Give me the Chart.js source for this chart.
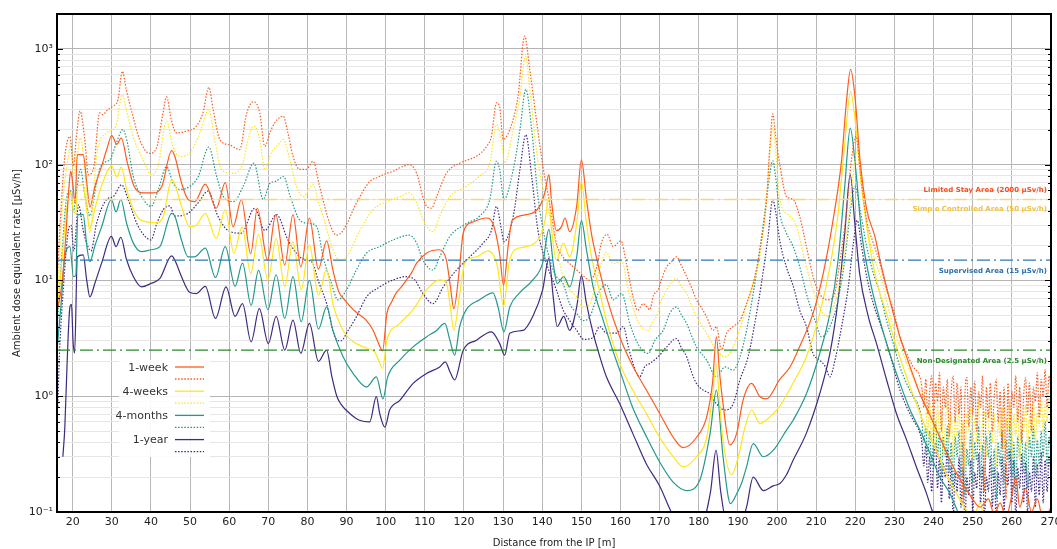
<!DOCTYPE html>
<html>
<head>
<meta charset="utf-8">
<script src="https://cdn.jsdelivr.net/npm/chart.js@4/dist/chart.umd.min.js"></script>
<style>
  html, body { margin: 0; padding: 0; background: #fff; }
  #wrap { width: 1057px; height: 549px; }
</style>
</head>
<body>
<div id="wrap"><canvas id="doseChart" width="1057" height="549"></canvas></div>
<script>
// Distance from the IP [m] and dose rate [uSv/h].
const week1Solid = [
  [16.3, 6], [17.2, 9], [18.0, 18], [19.0, 60], [19.5, 88], [20.0, 70], [20.6, 47], [21.2, 122], [22.7, 122],
  [23.6, 70], [24.4, 43], [25.7, 65], [27.4, 97], [28.7, 135], [30.0, 178], [31.3, 150], [32.4, 170], [34.0, 103],
  [35.7, 65], [38.1, 57], [40.6, 57], [42.8, 65], [45.3, 132], [46.1, 118], [47.8, 70], [49.5, 50], [51.2, 48],
  [53.9, 68], [56.7, 42], [59.0, 70], [61.0, 29], [63.1, 50], [65.5, 17], [67.2, 42], [69.8, 15], [71.9, 37],
  [74.2, 13.6], [76.3, 37], [78.3, 13.1], [80.5, 34.5], [82.8, 12.5], [84.9, 22], [86.5, 12.3], [88.0, 8],
  [89.5, 6.8], [91.7, 5.6], [93.5, 5.0], [95.1, 4.5], [96.8, 3.7], [98.0, 2.95], [99.2, 2.47], [100.3, 5.2],
  [101.5, 6.5], [102.7, 7.8], [104.0, 8.8], [105.3, 10.1], [106.5, 11.5], [107.9, 14.1], [110.4, 17.2],
  [113.8, 18.4], [115.5, 15], [116.5, 9], [117.4, 5.7], [118.8, 12.3], [119.8, 25.7], [122.3, 32], [125.7, 34.6],
  [127.4, 31], [129.1, 17], [130.1, 9.1], [131.3, 20], [132.3, 33], [136.0, 37], [139.4, 44], [140.7, 58],
  [141.7, 82], [142.4, 47], [143.6, 27], [144.9, 29], [145.8, 34.6], [147.0, 26.4], [148.8, 44], [150.0, 110],
  [151.3, 50], [152.6, 25], [154.0, 15], [156.4, 7.2], [159.8, 3.25], [162.8, 1.92], [166.6, 1.13], [170.0, 0.71],
  [173.5, 0.44], [176.0, 0.36], [179.4, 0.44], [182.0, 0.66], [183.5, 1.3], [184.5, 3.25], [185.3, 1.6],
  [186.2, 0.86], [187.9, 0.38], [189.7, 0.48], [191.3, 0.92], [193.5, 1.29], [195.6, 0.99], [197.3, 0.95],
  [200.7, 1.4], [203.3, 1.79], [205.8, 2.7], [209.2, 5.2], [211.8, 11.5], [214.3, 33], [216.5, 110], [217.7, 342],
  [218.8, 665], [219.9, 390], [221.2, 110], [222.9, 41], [225.0, 24], [226.3, 15], [228.8, 6.8], [231.4, 3.25],
  [234.0, 1.79], [236.5, 1.05], [239.1, 0.68], [241.6, 0.44], [244.2, 0.28], [246.8, 0.19], [249.3, 0.14],
  [251.9, 0.11], [254.0, 0.13], [255.5, 0.095], [257.0, 0.12], [258.5, 0.09], [260.0, 0.14], [261.0, 0.2],
  [262.0, 0.11], [263.5, 0.16], [265.0, 0.1], [266.5, 0.13], [268.0, 0.085], [270.0, 0.11]
];

const week4Solid = [
  [16.0, 5], [17.2, 14], [18.6, 45], [19.5, 58], [20.2, 40], [20.8, 38], [21.3, 66], [22.7, 67], [23.6, 40],
  [24.4, 28], [25.7, 42], [27.4, 66], [30.0, 97], [31.3, 78], [32.4, 95], [33.8, 61], [35.5, 41], [37.6, 33],
  [41.5, 31.5], [43.2, 36], [45.3, 74], [46.1, 68], [47.8, 44], [49.9, 29], [51.6, 30], [53.9, 38], [56.7, 23],
  [59.0, 41], [61.2, 17.2], [63.3, 29], [65.5, 11.5], [67.5, 25], [69.9, 10.1], [72.0, 23], [74.2, 8.9],
  [76.3, 21.6], [78.4, 8.3], [80.5, 20.3], [82.8, 7.5], [84.9, 12.5], [86.5, 6.3], [89.1, 3.7], [91.7, 2.95],
  [95.1, 2.6], [97.2, 2.4], [98.3, 2.0], [99.2, 1.74], [100.3, 3.05], [103.6, 4.25], [107.0, 5.6], [110.4, 8.3],
  [113.8, 10.1], [115.5, 9.5], [116.5, 6], [117.4, 3.7], [118.8, 7.2], [120.2, 14.1], [123.2, 16], [126.1, 18],
  [128.5, 13.5], [130.1, 6.0], [131.5, 14], [133.0, 18.4], [136.0, 19.6], [139.4, 24], [140.7, 33], [141.6, 50],
  [142.4, 27], [143.6, 15], [145.4, 21], [147.0, 16], [148.8, 31], [150.0, 71], [151.3, 31], [152.6, 16],
  [154.5, 8.5], [156.4, 4.5], [159.8, 1.92], [163.1, 1.13], [166.6, 0.71], [170.0, 0.44], [173.5, 0.3],
  [176.0, 0.245], [179.4, 0.3], [182.0, 0.44], [183.5, 1.0], [184.4, 1.92], [185.3, 0.9], [186.1, 0.44],
  [188.4, 0.21], [190.1, 0.3], [191.8, 0.54], [193.5, 0.76], [195.6, 0.58], [198.1, 0.66], [200.7, 0.82],
  [204.1, 1.3], [207.5, 2.19], [210.9, 5.2], [213.5, 13.1], [215.6, 38], [217.3, 154], [218.8, 430], [220.1, 215],
  [221.6, 65], [223.7, 19.6], [225.8, 8.8], [228.0, 5.2], [230.5, 2.67], [233.1, 1.47], [235.6, 0.86],
  [238.2, 0.51], [240.7, 0.34], [243.3, 0.21], [245.9, 0.144], [248.4, 0.103], [250.0, 0.09], [252.0, 0.12],
  [253.0, 0.085], [270.0, 0.08]
];

const month4Solid = [
  [16.0, 2.5], [17.0, 6], [18.0, 16], [19.3, 19.6], [20.2, 10.8], [20.8, 11], [21.3, 37], [22.7, 37], [23.6, 20],
  [24.4, 14.5], [25.7, 20], [27.4, 29], [29.9, 50], [31.1, 39], [32.3, 50], [33.8, 31], [35.5, 21], [37.6, 17.7],
  [40.0, 18.4], [42.3, 19.6], [45.3, 38], [46.1, 36], [47.8, 22.4], [49.5, 16], [51.2, 16], [53.9, 19],
  [56.5, 10.6], [59.0, 19.6], [61.5, 8.9], [63.4, 14.1], [65.6, 6.1], [67.5, 12.2], [69.9, 5.6], [72.0, 11.2],
  [74.2, 4.7], [76.3, 10.8], [78.4, 4.4], [80.5, 10], [82.8, 3.8], [84.9, 5.9], [86.5, 3.7], [89.1, 2.19],
  [91.7, 1.57], [95.1, 1.2], [97.6, 1.47], [99.3, 0.95], [100.5, 1.47], [103.6, 2.05], [107.0, 2.67],
  [110.4, 3.25], [113.0, 3.7], [115.1, 4.25], [116.4, 3.05], [117.6, 2.26], [118.9, 4.0], [120.6, 5.6],
  [124.0, 6.8], [127.4, 7.8], [128.7, 5.9], [130.2, 3.6], [131.7, 5.9], [134.2, 7.8], [137.6, 10.1], [140.1, 14.1],
  [141.7, 27.6], [142.8, 14.1], [143.8, 9.4], [145.5, 10.8], [147.0, 8.8], [148.8, 16], [150.0, 32.8],
  [151.3, 18.4], [153.0, 8.8], [155.6, 4.5], [158.0, 2.5], [160.0, 1.6], [163.1, 0.8], [166.6, 0.45], [170.0, 0.27],
  [173.5, 0.18], [176.9, 0.153], [180.3, 0.19], [182.9, 0.48], [184.5, 1.13], [186.2, 0.3], [188.1, 0.118],
  [189.7, 0.144], [190.9, 0.176], [192.2, 0.245], [193.9, 0.39], [196.5, 0.3], [199.0, 0.34], [202.4, 0.51],
  [204.1, 0.62], [207.5, 1.05], [210.9, 2.34], [213.5, 5.2], [215.6, 15], [217.3, 65], [218.7, 207], [220.1, 91],
  [221.6, 25.6], [223.7, 10.1], [226.3, 4.5], [228.8, 2.34], [231.4, 1.29], [234.0, 0.76], [236.5, 0.51],
  [239.1, 0.32], [241.6, 0.2], [244.2, 0.144], [245.9, 0.106], [247.0, 0.085], [270.0, 0.08]
];

const year1Solid = [
  [17.5, 0.3], [18.0, 0.54], [18.6, 2], [19.3, 5.9], [19.7, 6.2], [20.1, 3], [20.5, 2.35], [21.2, 16], [22.7, 16.6],
  [23.6, 10], [24.4, 7.2], [25.7, 9.5], [27.4, 14.1], [29.9, 24], [31.1, 19.6], [32.3, 23.6], [33.8, 15],
  [35.5, 10.8], [37.6, 8.8], [40.0, 9.4], [42.3, 10.4], [45.3, 16.3], [46.1, 15], [47.8, 10.8], [49.9, 7.9],
  [51.6, 7.7], [53.9, 8.9], [56.5, 4.7], [59.2, 8.8], [61.5, 4.9], [63.4, 6.3], [65.6, 2.95], [67.7, 5.7],
  [70.0, 2.85], [72.0, 4.9], [74.2, 2.5], [76.3, 4.55], [78.3, 2.35], [80.5, 4.25], [82.8, 2.0], [84.9, 2.5],
  [86.2, 1.5], [87.5, 1.0], [88.5, 0.86], [90.8, 0.71], [93.3, 0.62], [95.9, 0.6], [97.6, 0.99], [98.5, 0.7],
  [99.8, 0.54], [101.0, 0.76], [103.6, 0.92], [107.0, 1.29], [110.4, 1.57], [113.8, 1.79], [115.2, 1.98],
  [116.5, 1.6], [117.6, 1.38], [119.8, 2.5], [123.2, 3.05], [127.0, 3.6], [129.1, 2.86], [130.4, 2.26],
  [131.7, 3.5], [135.1, 3.7], [137.6, 4.9], [140.1, 8.3], [141.7, 15.5], [142.8, 7.2], [143.8, 4.0], [145.5, 4.9],
  [147.0, 3.7], [148.8, 5.9], [150.0, 11], [151.3, 6.3], [153.0, 3.5], [154.7, 2.2], [156.4, 1.47], [159.8, 0.86],
  [163.1, 0.48], [166.6, 0.26], [170.0, 0.168], [172.6, 0.106], [174.0, 0.085], [181.0, 0.085], [183.0, 0.15],
  [184.4, 0.34], [185.6, 0.15], [187.0, 0.085], [191.0, 0.085], [192.2, 0.11], [193.9, 0.2], [196.5, 0.153],
  [199.0, 0.168], [200.7, 0.176], [202.4, 0.21], [204.1, 0.28], [207.5, 0.48], [210.9, 1.05], [213.5, 2.34],
  [215.6, 6.8], [217.3, 25.6], [218.7, 82], [219.8, 33], [221.1, 11.5], [223.3, 4.9], [225.4, 2.86], [228.0, 1.38],
  [230.5, 0.71], [233.1, 0.42], [235.6, 0.245], [238.2, 0.144], [239.5, 0.106], [241.0, 0.08], [270.0, 0.08]
];

const week1Dotted = [
  [15.9, 8.3], [16.8, 31], [18.0, 118], [19.3, 175], [20.2, 97], [21.0, 180], [21.9, 290], [23.1, 165], [24.0, 82],
  [25.3, 91], [26.9, 280], [27.7, 270], [29.0, 300], [30.3, 320], [31.6, 366], [32.7, 640], [33.7, 446],
  [35.4, 262], [37.1, 165], [39.7, 125], [41.4, 139], [43.1, 280], [44.0, 385], [45.2, 245], [46.5, 188],
  [49.1, 195], [51.6, 215], [53.3, 280], [54.8, 465], [55.9, 299], [57.6, 165], [60.1, 148], [62.7, 135],
  [64.4, 272], [66.3, 350], [67.8, 280], [69.1, 144], [70.4, 188], [71.6, 229], [73.8, 262], [75.0, 188],
  [76.3, 118], [78.0, 91], [79.7, 91], [81.4, 107], [83.1, 65], [85.7, 31], [87.4, 24.6], [89.1, 27], [92.5, 46.5],
  [95.9, 71.5], [98.0, 78], [100.2, 84], [102.0, 88], [103.6, 94], [106.1, 100], [107.9, 84], [110.0, 46.5],
  [111.7, 42], [113.0, 53], [115.5, 84], [118.9, 103], [121.0, 110], [123.2, 118], [125.8, 144], [127.0, 175],
  [128.3, 342], [129.1, 318], [130.0, 165], [131.7, 201], [133.8, 388], [135.5, 1290], [136.8, 665], [138.5, 245],
  [140.2, 95], [141.9, 46.5], [143.6, 21], [145.3, 16], [147.0, 14], [148.8, 12.3], [150.4, 11], [152.2, 10],
  [153.9, 13], [155.1, 21], [156.6, 25], [158.1, 19.6], [160.1, 22], [161.5, 14], [163.2, 7.2], [164.4, 5.5],
  [165.8, 6.3], [167.5, 5.6], [168.4, 7.4], [169.6, 8.3], [170.6, 10.5], [171.8, 13.1], [173.0, 14.5],
  [174.3, 16], [175.5, 13.5], [176.9, 10.8], [178.2, 8.6], [179.4, 6.8], [180.7, 5.8], [182.0, 4.85],
  [183.7, 3.7], [184.5, 4.0], [185.8, 2.5], [187.1, 3.5], [188.8, 4.0], [190.5, 4.5], [192.2, 6.3], [193.9, 9.4],
  [195.6, 18.4], [197.3, 50], [198.2, 150], [198.9, 275], [199.6, 180], [200.7, 100], [202.4, 53], [204.1, 50],
  [205.8, 35.5], [207.5, 19.6], [209.2, 10.8], [210.9, 7.7], [212.7, 6.8], [214.4, 7.2], [216.1, 15], [217.8, 41],
  [219.0, 110], [220.2, 176], [221.2, 91], [222.9, 33], [224.6, 21], [226.3, 14], [228.0, 8.3], [229.7, 5.6],
  [231.4, 3.25], [233.1, 2.34], [234.8, 1.79], [236.5, 1.47],
  [237.0, 1.2], [237.5, 0.8], [238.0, 1.4], [238.5, 0.7], [239.0, 1.1], [239.5, 1.5], [240.0, 0.6], [240.5, 1.3],
  [241.0, 0.9], [241.5, 1.6], [242.0, 0.5], [242.5, 1.2], [243.0, 0.8], [243.5, 1.4], [244.0, 0.45], [244.5, 1.1],
  [245.0, 1.5], [245.5, 0.6], [246.0, 1.3], [246.5, 0.7], [247.0, 1.2], [247.5, 0.12], [248.0, 1.0], [248.5, 1.45],
  [249.0, 0.55], [249.5, 1.2], [250.0, 0.7], [250.5, 1.35], [251.0, 0.5], [251.5, 1.1], [252.0, 0.8], [252.5, 1.5],
  [253.0, 0.15], [253.5, 1.2], [254.0, 0.65], [254.5, 1.3], [255.0, 0.5], [255.5, 1.0], [256.0, 1.4], [256.5, 0.6],
  [257.0, 1.1], [257.5, 0.35], [258.0, 1.2], [258.5, 0.13], [259.0, 1.3], [259.5, 0.55], [260.0, 1.1], [260.5, 0.8],
  [261.0, 1.5], [261.5, 0.6], [262.0, 1.2], [262.5, 0.4], [263.0, 1.0], [263.5, 1.45], [264.0, 0.7], [264.5, 1.3],
  [265.0, 0.5], [265.5, 1.2], [266.0, 0.9], [266.5, 1.6], [267.0, 0.65], [267.5, 1.4], [268.0, 1.0], [268.5, 1.7],
  [269.0, 0.8], [269.5, 1.5], [270.0, 1.1]
];

const week4Dotted = [
  [15.9, 4], [17.2, 36], [18.9, 118], [19.6, 150], [20.2, 80], [21.0, 110], [22.0, 170], [23.1, 90], [24.4, 26],
  [26.1, 118], [28.7, 188], [31.0, 215], [32.7, 400], [33.7, 300], [35.4, 176], [38.0, 110], [40.1, 82],
  [41.8, 97], [44.0, 238], [45.6, 144], [47.4, 118], [49.9, 126], [52.5, 188], [54.8, 299], [56.3, 165], [58.0, 91],
  [61.0, 84], [63.5, 103], [64.8, 165], [66.3, 215], [67.8, 165], [69.1, 91], [70.8, 126], [72.9, 154],
  [73.8, 165], [75.5, 110], [77.2, 65], [78.9, 53], [81.4, 67], [83.1, 44], [84.0, 36], [86.5, 18.4], [88.2, 15],
  [90.0, 16], [93.4, 27], [96.8, 41], [100.2, 48], [103.6, 53], [106.1, 57], [107.9, 46.5], [110.0, 31],
  [112.1, 26.4], [113.8, 36], [116.4, 53], [120.6, 65], [124.0, 80], [126.6, 103], [128.3, 221], [129.6, 154],
  [130.4, 103], [132.6, 201], [134.3, 388], [135.7, 866], [137.0, 388], [138.7, 118], [141.1, 46.5], [141.9, 36],
  [143.6, 19.6], [145.3, 10.8], [147.0, 8.3], [148.8, 7.2], [150.4, 5.9], [152.2, 6.3], [154.3, 11.5],
  [156.4, 17.5], [158.1, 14], [160.3, 14.5], [162.2, 7.7], [164.5, 4.4], [167.1, 3.7], [168.2, 4.4], [169.2, 4.9],
  [170.5, 6.8], [171.8, 8.3], [173.0, 9.6], [174.3, 10.4], [175.6, 8.8], [176.9, 7.7], [178.2, 6.0], [179.4, 4.9],
  [182.0, 3.5], [184.5, 2.5], [186.7, 2.19], [188.8, 2.67], [190.9, 4.25], [193.0, 7.7], [195.6, 16], [197.3, 50],
  [198.2, 130], [198.9, 220], [199.6, 140], [200.7, 50], [203.3, 36], [205.0, 29], [207.5, 13.1], [210.1, 6.8],
  [212.7, 4.9], [214.4, 5.9], [216.5, 11.5], [218.2, 33], [219.5, 85], [220.5, 135], [221.6, 65], [223.3, 25.6],
  [225.0, 15], [226.7, 10.1], [228.8, 5.2], [230.5, 3.25], [232.2, 2.34], [233.9, 1.68], [235.6, 1.29],
  [237.4, 1.05],
  [238.0, 0.8], [238.5, 0.5], [239.0, 0.9], [239.5, 0.4], [240.0, 0.7], [240.5, 0.35], [241.0, 0.85], [241.5, 0.45],
  [242.0, 0.75], [242.5, 0.3], [243.0, 0.6], [243.5, 0.9], [244.0, 0.4], [244.5, 0.7], [245.0, 0.28], [245.5, 0.65],
  [246.0, 0.45], [246.5, 0.85], [247.0, 0.35], [247.5, 0.6], [248.0, 0.25], [248.5, 0.7], [249.0, 0.5], [249.5, 0.8],
  [250.0, 0.3], [250.5, 0.65], [251.0, 0.4], [251.5, 0.9], [252.0, 0.35], [252.5, 0.6], [253.0, 0.75], [253.5, 0.3],
  [254.0, 0.55], [254.5, 0.85], [255.0, 0.4], [255.5, 0.7], [256.0, 0.25], [256.5, 0.6], [257.0, 0.45], [257.5, 0.8],
  [258.0, 0.35], [258.5, 0.65], [259.0, 0.5], [259.5, 0.9], [260.0, 0.3], [260.5, 0.7], [261.0, 0.45], [261.5, 0.8],
  [262.0, 0.28], [262.5, 0.6], [263.0, 0.5], [263.5, 0.85], [264.0, 0.35], [264.5, 0.7], [265.0, 0.45], [265.5, 0.9],
  [266.0, 0.4], [266.5, 0.75], [267.0, 0.55], [267.5, 0.95], [268.0, 0.5], [268.5, 0.85], [269.0, 0.6], [269.5, 1.0],
  [270.0, 0.7]
];

const month4Dotted = [
  [15.9, 3.25], [17.2, 16], [18.5, 53], [19.4, 60], [20.2, 40], [21.0, 60], [22.0, 91], [23.1, 55], [24.4, 36],
  [26.1, 70], [27.0, 93], [28.7, 107], [29.5, 110], [31.2, 155], [32.8, 201], [33.8, 165], [35.5, 79], [38.1, 50],
  [40.0, 43.5], [41.9, 61], [44.0, 96], [45.7, 69], [47.4, 61], [50.0, 65], [52.1, 79], [54.8, 142], [56.8, 79],
  [58.5, 53], [61.1, 48], [63.6, 65], [66.3, 103], [68.7, 50], [70.4, 69], [72.0, 72], [73.9, 79], [75.6, 53],
  [78.1, 33], [80.7, 31], [82.4, 29], [84.0, 16], [86.1, 9.5], [87.8, 6.8], [90.0, 8.3], [92.5, 12.3], [95.1, 17.2],
  [98.5, 19.6], [101.9, 22.4], [106.1, 24.6], [107.9, 21], [109.5, 15], [112.1, 12.3], [113.8, 16], [116.4, 24],
  [120.6, 31], [124.0, 36], [126.6, 50], [128.3, 107], [129.1, 91], [130.2, 50], [132.6, 91], [134.3, 201],
  [135.8, 446], [137.3, 201], [138.9, 53], [141.1, 19.6], [142.8, 12.3], [143.6, 10.8], [145.3, 9.4], [147.0, 6.3],
  [148.8, 5.2], [150.4, 4.5], [152.2, 4.9], [154.3, 7.7], [156.4, 9.2], [158.1, 6.8], [160.3, 7.7], [162.4, 4.2],
  [164.9, 2.67], [167.1, 2.34], [168.8, 3.05], [170.9, 3.7], [172.6, 5.2], [174.3, 5.9], [175.6, 5.0],
  [176.9, 4.25], [178.2, 3.3], [179.4, 2.67], [182.0, 2.05], [184.5, 1.47], [186.7, 1.79], [188.8, 1.68],
  [190.5, 2.19], [192.2, 3.7], [193.9, 7.7], [195.6, 18.4], [197.3, 50], [198.3, 90], [198.9, 108], [199.6, 80],
  [200.7, 38], [202.4, 25.6], [204.1, 19.6], [205.8, 13.1], [207.5, 7.7], [209.7, 4.5], [211.4, 3.25], [213.5, 4.0],
  [215.6, 6.8], [217.3, 15], [218.8, 41], [219.9, 65], [221.2, 41], [222.9, 19.6], [224.6, 11.5], [226.3, 7.7],
  [228.0, 4.5], [229.7, 2.86], [231.4, 1.79], [233.1, 1.29], [234.8, 0.99], [236.5, 0.76],
  [237.0, 0.6], [237.5, 0.4], [238.0, 0.55], [238.5, 0.3], [239.0, 0.5], [239.5, 0.25], [240.0, 0.45], [240.5, 0.6],
  [241.0, 0.3], [241.5, 0.5], [242.0, 0.2], [242.5, 0.45], [243.0, 0.3], [243.5, 0.55], [244.0, 0.22], [244.5, 0.4],
  [245.0, 0.16], [245.5, 0.45], [246.0, 0.3], [246.5, 0.5], [247.0, 0.2], [247.5, 0.4], [248.0, 0.14], [248.5, 0.35],
  [249.0, 0.25], [249.5, 0.5], [250.0, 0.18], [250.5, 0.4], [251.0, 0.28], [251.5, 0.55], [252.0, 0.2], [252.5, 0.38],
  [253.0, 0.15], [253.5, 0.45], [254.0, 0.3], [254.5, 0.5], [255.0, 0.2], [255.5, 0.35], [256.0, 0.13], [256.5, 0.4],
  [257.0, 0.25], [257.5, 0.5], [258.0, 0.18], [258.5, 0.42], [259.0, 0.28], [259.5, 0.55], [260.0, 0.2], [260.5, 0.4],
  [261.0, 0.15], [261.5, 0.45], [262.0, 0.3], [262.5, 0.5], [263.0, 0.22], [263.5, 0.4], [264.0, 0.16], [264.5, 0.45],
  [265.0, 0.3], [265.5, 0.55], [266.0, 0.2], [266.5, 0.42], [267.0, 0.25], [267.5, 0.5], [268.0, 0.3], [268.5, 0.6],
  [269.0, 0.25], [269.5, 0.45], [270.0, 0.3]
];

const year1Dotted = [
  [16.2, 0.81], [16.6, 2.19], [17.6, 8.3], [18.9, 27], [19.6, 30], [20.3, 18], [21.5, 45], [22.7, 27], [23.8, 20],
  [24.7, 18], [26.1, 31], [28.7, 50], [30.4, 53], [32.5, 67], [34.2, 50], [36.4, 31], [38.5, 24], [40.0, 22.4],
  [41.5, 31], [43.2, 41], [44.8, 44], [46.1, 36], [49.5, 38], [52.0, 46.5], [54.6, 59], [57.1, 36], [59.7, 27],
  [63.1, 25.6], [66.5, 42], [69.1, 27], [72.1, 37], [75.0, 22.4], [78.0, 16], [80.1, 15], [81.4, 14], [82.7, 10.1],
  [84.9, 6.3], [87.0, 3.25], [88.5, 3.0], [90.4, 3.7], [92.5, 4.85], [95.1, 7.2], [98.5, 8.8], [101.9, 10.1],
  [105.3, 10.8], [107.4, 10.1], [109.5, 7.7], [112.1, 6.3], [114.7, 8.8], [118.1, 12.3], [121.5, 16], [124.9, 21],
  [127.0, 27], [128.3, 43.5], [129.6, 27], [130.2, 21.6], [132.6, 36], [134.3, 91], [135.8, 181], [137.3, 79],
  [138.9, 27], [141.1, 14], [143.6, 8.3], [145.3, 5.6], [147.0, 4.5], [148.8, 3.7], [150.6, 3.1], [153.0, 3.2],
  [154.7, 4.0], [156.4, 3.5], [159.0, 3.5], [160.7, 4.0], [162.2, 2.5], [164.9, 1.47], [166.2, 1.8], [167.5, 1.92],
  [169.6, 2.19], [171.8, 2.67], [174.3, 3.15], [175.6, 2.6], [176.9, 2.19], [178.2, 1.6], [179.4, 1.29],
  [181.1, 1.13], [182.8, 1.05], [184.5, 0.86], [186.7, 0.76], [188.8, 0.86], [190.5, 1.38], [192.6, 2.19],
  [194.3, 4.25], [196.0, 9.4], [197.7, 24], [198.9, 50], [199.6, 40], [200.7, 22], [202.4, 13], [204.1, 9],
  [205.8, 5.5], [207.5, 4.0], [209.2, 2.34], [210.9, 2.05], [212.4, 1.79], [213.5, 1.47], [214.8, 2.05],
  [216.5, 4.0], [218.2, 8.8], [219.5, 21], [220.5, 33], [221.6, 19.6], [222.9, 10.8], [224.6, 6.3], [226.3, 4.25],
  [228.0, 2.86], [229.7, 1.79], [231.4, 1.13], [233.1, 0.81], [234.8, 0.62], [236.5, 0.48],
  [237.0, 0.4], [237.5, 0.25], [238.0, 0.38], [238.5, 0.18], [239.0, 0.3], [239.5, 0.15], [240.0, 0.28], [240.5, 0.4],
  [241.0, 0.16], [241.5, 0.3], [242.0, 0.12], [242.5, 0.26], [243.0, 0.2], [243.5, 0.35], [244.0, 0.13], [244.5, 0.25],
  [245.0, 0.09], [245.5, 0.22], [246.0, 0.15], [246.5, 0.3], [247.0, 0.11], [247.5, 0.24], [248.0, 0.08], [248.5, 0.2],
  [249.0, 0.14], [249.5, 0.28], [250.0, 0.1], [250.5, 0.22], [251.0, 0.16], [251.5, 0.32], [252.0, 0.12], [252.5, 0.25],
  [253.0, 0.09], [253.5, 0.2], [254.0, 0.15], [254.5, 0.3], [255.0, 0.11], [255.5, 0.24], [256.0, 0.08], [256.5, 0.22],
  [257.0, 0.14], [257.5, 0.3], [258.0, 0.1], [258.5, 0.26], [259.0, 0.17], [259.5, 0.35], [260.0, 0.12], [260.5, 0.28],
  [261.0, 0.09], [261.5, 0.24], [262.0, 0.16], [262.5, 0.32], [263.0, 0.12], [263.5, 0.27], [264.0, 0.1], [264.5, 0.22],
  [265.0, 0.15], [265.5, 0.3], [266.0, 0.11], [266.5, 0.26], [267.0, 0.14], [267.5, 0.33], [268.0, 0.12], [268.5, 0.28],
  [269.0, 0.15], [269.5, 0.3], [270.0, 0.2]
];

const seriesNames = ['1-week', '4-weeks', '4-months', '1-year'];
const solidSeries = [week1Solid, week4Solid, month4Solid, year1Solid];
const dottedSeries = [week1Dotted, week4Dotted, month4Dotted, year1Dotted];

// area limits [uSv/h]
const limitValues = [2000, 50, 15, 2.5];
const limitNames = [
  'Limited Stay Area (2000 \u00b5Sv/h)',
  'Simple Controlled Area (50 \u00b5Sv/h)',
  'Supervised Area (15 \u00b5Sv/h)',
  'Non-Designated Area (2.5 \u00b5Sv/h)'
];

const xRange = [16, 270];
const xTickValues = [20, 30, 40, 50, 60, 70, 80, 90, 100, 110, 120, 130, 140, 150, 160, 170, 180, 190, 200,
  210, 220, 230, 240, 250, 260, 270];
const yRange = [0.1, 2000];
const yDecades = [0.1, 1, 10, 100, 1000];
const yDecadeLabels = ['10\u207b\u00b9', '10\u2070', '10\u00b9', '10\u00b2', '10\u00b3'];

// styles
const seriesColors = ['#ff5a1e', '#ffe619', '#21998b', '#3e2a80'];
const limitLineColors = ['#ff5a1e', '#f5d778', '#2a78b8', '#2a8a2a'];
const limitTextColors = ['#ff4d1a', '#f0c23c', '#2a6fb0', '#2a8a2a'];
const dotDash = [1.5, 1.6];
const FONT = '"DejaVu Sans", "Liberation Sans", sans-serif';

Chart.defaults.font.family = FONT;

const toPoints = arr => arr.map(([x, y]) => ({ x, y }));

const datasets = [];
limitValues.forEach((v, i) => {
  datasets.push({
    data: [{ x: xRange[0], y: v }, { x: xRange[1], y: v }],
    borderColor: limitLineColors[i],
    borderWidth: 1.3,
    borderDash: [13, 4, 2, 4],
    order: -1
  });
});
seriesNames.forEach((name, i) => {
  datasets.push({
    label: name,
    data: toPoints(solidSeries[i]),
    borderColor: seriesColors[i],
    borderWidth: 1.2,
    cubicInterpolationMode: 'monotone'
  });
  datasets.push({
    label: name + ' (dotted)',
    data: toPoints(dottedSeries[i]),
    borderColor: seriesColors[i],
    borderWidth: 1.2,
    borderDash: dotDash,
    cubicInterpolationMode: 'monotone'
  });
});

const overlayPlugin = {
  id: 'overlay',
  afterDatasetsDraw(chart, args, opts) {
    const { ctx, chartArea: area, scales: { y } } = chart;
    ctx.save();

    // area labels
    ctx.font = 'bold 7px ' + FONT;
    ctx.textAlign = 'right';
    ctx.textBaseline = 'middle';
    limitNames.forEach((name, i) => {
      ctx.fillStyle = limitTextColors[i];
      ctx.fillText(name, area.right - 4, y.getPixelForValue(opts.labelAt[i]));
    });

    // legend box
    const lx = area.left + 62, ly = area.top + 346;
    ctx.fillStyle = 'rgba(255,255,255,0.88)';
    ctx.fillRect(lx, ly, 91, 97);
    ctx.font = '11px ' + FONT;
    seriesNames.forEach((name, i) => {
      const rowY = ly + 8 + i * 24.2;
      ctx.fillStyle = '#333';
      ctx.textAlign = 'right';
      ctx.fillText(name, lx + 49, rowY);
      ctx.strokeStyle = seriesColors[i];
      ctx.lineWidth = 1.3;
      ctx.setLineDash([]);
      ctx.beginPath();
      ctx.moveTo(lx + 56, rowY - 1);
      ctx.lineTo(lx + 85, rowY - 1);
      ctx.stroke();
      ctx.setLineDash(dotDash);
      ctx.beginPath();
      ctx.moveTo(lx + 56, rowY + 11);
      ctx.lineTo(lx + 85, rowY + 11);
      ctx.stroke();
    });
    ctx.setLineDash([]);

    // inner tick marks on both sides
    ctx.strokeStyle = '#000';
    ctx.lineWidth = 1;
    ctx.beginPath();
    y.ticks.forEach(t => {
      const py = Math.round(y.getPixelForValue(t.value)) + 0.5;
      const len = t.isDecade ? 6 : 3;
      ctx.moveTo(area.left, py);
      ctx.lineTo(area.left + len, py);
      ctx.moveTo(area.right, py);
      ctx.lineTo(area.right - len, py);
    });
    ctx.stroke();

    // frame
    ctx.lineWidth = 2;
    ctx.strokeRect(area.left, area.top, area.right - area.left, area.bottom - area.top);
    ctx.restore();
  }
};

new Chart(document.getElementById('doseChart'), {
  type: 'line',
  data: { datasets },
  plugins: [overlayPlugin],
  options: {
    responsive: false,
    animation: false,
    devicePixelRatio: 1,
    events: [],
    layout: { padding: { top: 14, right: 6, left: 0, bottom: 0 } },
    elements: { point: { radius: 0 }, line: { tension: 0 } },
    plugins: {
      legend: { display: false },
      tooltip: { enabled: false },
      overlay: { labelAt: [60, 41, 12, 2] }
    },
    scales: {
      x: {
        type: 'linear',
        min: xRange[0],
        max: xRange[1],
        afterBuildTicks: scale => { scale.ticks = xTickValues.map(v => ({ value: v })); },
        afterFit: scale => {
          scale.height = 37;
          // let the last tick label run past the plot edge, like the original
          scale.paddingLeft = 0;
          scale.paddingRight = 0;
        },
        ticks: { autoSkip: false, maxRotation: 0, padding: 4, color: '#222', font: { size: 11 } },
        grid: { color: '#b8b8b8', lineWidth: 1, drawTicks: false },
        border: { display: false },
        title: {
          display: true,
          text: 'Distance from the IP [m]',
          color: '#222',
          font: { size: 10 },
          padding: { top: 0, bottom: 0 }
        }
      },
      y: {
        type: 'logarithmic',
        min: yRange[0],
        max: yRange[1],
        afterBuildTicks: scale => {
          const ticks = [];
          yDecades.forEach(d => {
            ticks.push({ value: d, isDecade: true });
            for (let m = 2; m <= 9; m++) {
              if (d * m <= yRange[1]) ticks.push({ value: d * m, isDecade: false });
            }
          });
          scale.ticks = ticks;
        },
        afterFit: scale => {
          scale.width = 57;
          scale.paddingTop = 0;
          scale.paddingBottom = 0;
        },
        ticks: {
          autoSkip: false,
          padding: 4,
          color: '#222',
          font: { size: 11 },
          callback: (value, index, ticks) => {
            const k = yDecades.indexOf(value);
            return ticks[index].isDecade && k >= 0 ? yDecadeLabels[k] : '';
          }
        },
        grid: {
          color: c => (c.tick && c.tick.isDecade) ? '#b4b4b4' : '#e6e6e6',
          lineWidth: 1,
          drawTicks: false
        },
        border: { display: false },
        title: {
          display: true,
          text: 'Ambient dose equivalent rate [\u00b5Sv/h]',
          color: '#222',
          font: { size: 10 },
          padding: { top: 11, bottom: 0 }
        }
      }
    }
  }
});
</script>
</body>
</html>
